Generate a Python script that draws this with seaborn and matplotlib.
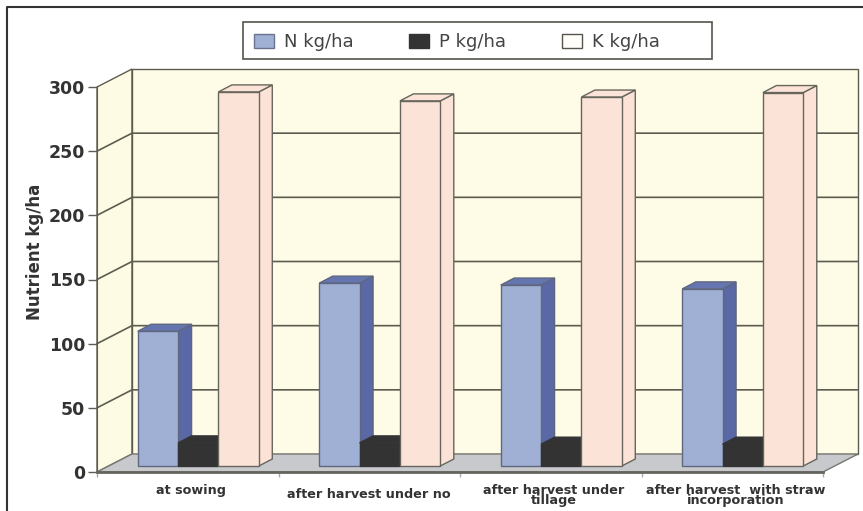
import matplotlib
matplotlib.use("Agg")
import matplotlib.pyplot as plt
import matplotlib.transforms as mtransforms
from matplotlib.lines import Line2D
from matplotlib.patches import Polygon, Rectangle
import pandas as pd
import seaborn as sns

# Values
stages = ["at sowing", "after harvest under no", "after harvest under\ntillage",
          "after harvest  with straw\nincorporation"]
nitrogen = [105, 142.5, 141, 138]
phosphorus = [18, 18, 17, 17]
potassium = [291.5, 284.5, 287.5, 291]
nutrients = ["N kg/ha", "P kg/ha", "K kg/ha"]
yticks = [0, 50, 100, 150, 200, 250, 300]

W, H = 863, 511
# front plane of the box, in pixels
X0, X1, Y0, Y1 = 97, 823, 472, 87

df = pd.DataFrame({"stage": stages, nutrients[0]: nitrogen, nutrients[1]: phosphorus, nutrients[2]: potassium})
df = df.melt(id_vars="stage", var_name="nutrient", value_name="value")

front = {"N kg/ha": "#a0b0d4", "P kg/ha": "#333333", "K kg/ha": "#fce3d8"}
side = {"N kg/ha": "#5a68a6", "P kg/ha": "#333333", "K kg/ha": "#fce3d8"}
top = {"N kg/ha": "#6475b0", "P kg/ha": "#333333", "K kg/ha": "#fce3d8"}
edges = {"N kg/ha": "#5f6780", "P kg/ha": "#333333", "K kg/ha": "#66665c"}
line_col = "#5c5c50"

sns.set_style("white")
fig = plt.figure(figsize=(W / 100, H / 100), dpi=100, facecolor="white")
ax = fig.add_axes([X0 / W, 1 - Y0 / H, (X1 - X0) / W, (Y0 - Y1) / H], facecolor="none")

sns.barplot(data=df, x="stage", y="value", hue="nutrient", hue_order=nutrients, palette=front,
            width=0.667, gap=0, saturation=1, linewidth=1, ax=ax, errorbar=None)
ax.set_xlim(-0.5, 3.5)
ax.set_ylim(0, 300)

# pixel sizes as data units
px_x = 4 / (X1 - X0)
px_y = 300 / (Y0 - Y1)
wall_dx, wall_dy = 35 * px_x, 18 * px_y
bar_dx, bar_dy = 10.5 * px_x, 6 * px_y
deep_dx, deep_dy = 13.5 * px_x, 7 * px_y


def face(points, color, z, edge=line_col, lw=1.0):
    ax.add_patch(Polygon(points, closed=True, facecolor=color, edgecolor=edge, linewidth=lw,
                         zorder=z, clip_on=False))


# box walls and floor
xa, xb = -0.5, 3.5
face([(xa, 0), (xa + wall_dx, wall_dy), (xa + wall_dx, 300 + wall_dy), (xa, 300)], "#fdfbe3", 0.5)
face([(xa + wall_dx, wall_dy), (xb + wall_dx, wall_dy), (xb + wall_dx, 300 + wall_dy), (xa + wall_dx, 300 + wall_dy)],
     "#fefce6", 0.6)
face([(xa, 0), (xb, 0), (xb + wall_dx, wall_dy), (xa + wall_dx, wall_dy)], "#c8c9cc", 0.7, edge="#77776f")
for v in yticks[1:-1]:
    ax.plot([xa, xa + wall_dx, xb + wall_dx], [v, v + wall_dy, v + wall_dy], color=line_col, lw=1.2,
            zorder=0.8, clip_on=False)

# lift the bars off the front edge and give them depth
for j, (name, bars) in enumerate(zip(nutrients, ax.containers)):
    for i, bar in enumerate(bars):
        z = 2 + j * 0.5
        bar.set_x(bar.get_x() + bar_dx)
        bar.set_y(bar_dy)
        bar.set_zorder(z + 0.2)
        bar.set_clip_on(False)
        bar.set_edgecolor(edges[name])
        x, w, y, h = bar.get_x(), bar.get_width(), bar.get_y(), bar.get_height()
        r, t = x + w, y + h
        face([(r, y), (r + deep_dx, y + deep_dy), (r + deep_dx, t + deep_dy), (r, t)], side[name], z, edge=edges[name])
        face([(x, t), (r, t), (r + deep_dx, t + deep_dy), (x + deep_dx, t + deep_dy)], top[name], z + 0.1,
             edge=edges[name])

sns.despine(ax=ax, top=True, right=True)
ax.spines["left"].set_color(line_col)
ax.spines["left"].set_zorder(1)
ax.spines["bottom"].set_color("#66665f")
ax.spines["bottom"].set_linewidth(2)

ax.set_yticks(yticks)
ax.tick_params(axis="y", length=6.5, width=1, color=line_col, pad=2, labelsize=12.5, labelcolor="#333333", left=True)
for lab in ax.get_yticklabels():
    lab.set_fontweight("bold")

# group boundaries carry the marks, group centres the labels
ax.set_xticks([-0.5, 0.5, 1.5, 2.5, 3.5], minor=True)
ax.tick_params(axis="x", which="minor", length=3.5, width=1, color="#aaaaaa", bottom=True)
ax.tick_params(axis="x", which="major", length=0, pad=8.5, labelsize=9.2, labelcolor="#333333")
shift = mtransforms.ScaledTranslation(3 / 100, 0, fig.dpi_scale_trans)
for lab in ax.get_xticklabels():
    lab.set_fontweight("bold")
    lab.set_linespacing(0.75)
    lab.set_transform(lab.get_transform() + shift)
ax.xaxis.get_major_ticks()[1].set_pad(11.5)
ax.set_xlabel("")
ax.set_ylabel("Nutrient kg/ha", fontsize=12, fontweight="bold", color="#333333")
ax.yaxis.set_label_coords((44 - X0) / (X1 - X0), (Y0 - 252) / (Y0 - Y1))

handles, labels = ax.get_legend_handles_labels()
ax.get_legend().remove()
for h, fc, ec in zip(handles, ["#a0b0d4", "#333333", "#fffef8"], ["#6a7390", "#333333", "#55554c"]):
    h.set_facecolor(fc)
    h.set_edgecolor(ec)
fig.add_artist(Rectangle((243 / W, 1 - 59 / H), (712 - 243) / W, 37 / H, transform=fig.transFigure,
                         facecolor="white", edgecolor="#55554c", linewidth=1.2, zorder=-1))
leg = ax.legend(handles, labels, ncol=3, loc="upper left", frameon=False,
                bbox_to_anchor=(254 / W, 1 - 33 / H), bbox_transform=fig.transFigure,
                borderaxespad=0, borderpad=0, fontsize=13, handlelength=1.1, handleheight=0.8,
                handletextpad=0.55, columnspacing=3.1, labelcolor="#444444")
leg.set_zorder(10)

# outer border of the picture
fig.add_artist(Line2D([7 / W, 7 / W, 1], [0, 1 - 7 / H, 1 - 7 / H], color="#333333", lw=1.5))

fig.savefig("out.png", dpi=100, facecolor="white")
